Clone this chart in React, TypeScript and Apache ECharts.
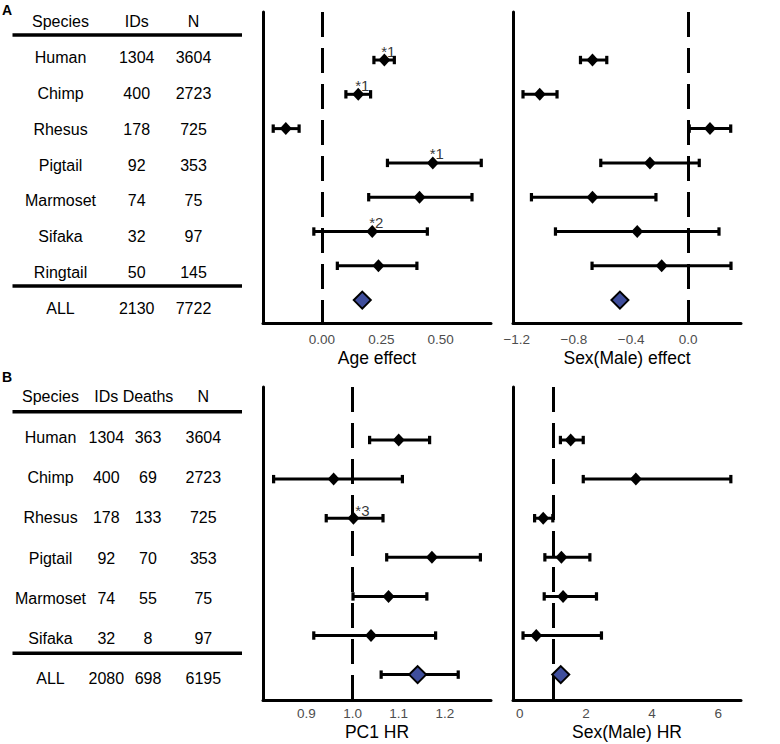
import React, { useEffect, useRef } from "react";
import * as echarts from "echarts";

const FONT = '"Liberation Sans", Arial, Helvetica, sans-serif';
const BLUE = "#3f4e9c";

// ---------- Panel A data ----------
const speciesA = ["Human", "Chimp", "Rhesus", "Pigtail", "Marmoset", "Sifaka", "Ringtail", "ALL"];
const idsA = [1304, 400, 178, 92, 74, 32, 50, 2130];
const nA = [3604, 2723, 725, 353, 75, 97, 145, 7722];
const headerA = ["Species", "IDs", "N"];

const ageEst = [0.263, 0.153, -0.152, 0.467, 0.411, 0.212, 0.238, 0.17];
const ageLo = [0.219, 0.101, -0.205, 0.276, 0.197, -0.034, 0.065, null];
const ageHi = [0.305, 0.205, -0.096, 0.671, 0.632, 0.444, 0.4, null];
const ageNotes = ["*1", "*1", "", "*1", "", "*2", "", ""];
const ageTicks = [0, 0.25, 0.5];

const sexEst = [-0.67, -1.039, 0.152, -0.268, -0.67, -0.357, -0.186, -0.478];
const sexLo = [-0.754, -1.156, 0.007, -0.612, -1.097, -0.929, -0.673, null];
const sexHi = [-0.57, -0.918, 0.297, 0.077, -0.226, 0.215, 0.299, null];
const sexTicks = [-1.2, -0.8, -0.4, 0];

// ---------- Panel B data ----------
const speciesB = ["Human", "Chimp", "Rhesus", "Pigtail", "Marmoset", "Sifaka", "ALL"];
const idsB = [1304, 400, 178, 92, 74, 32, 2080];
const deathsB = [363, 69, 133, 70, 55, 8, 698];
const nB = [3604, 2723, 725, 353, 75, 97, 6195];
const headerB = ["Species", "IDs", "Deaths", "N"];

const pc1Est = [1.1, 0.959, 1.002, 1.172, 1.078, 1.04, 1.141];
const pc1Lo = [1.037, 0.829, 0.943, 1.074, 1.001, 0.916, 1.062];
const pc1Hi = [1.167, 1.108, 1.066, 1.277, 1.161, 1.18, 1.229];
const pc1Notes = ["", "", "*3", "", "", "", ""];
const pc1Ticks = [0.9, 1.0, 1.1, 1.2];

const hrEst = [1.54, 3.51, 0.71, 1.26, 1.31, 0.5, 1.24];
const hrLo = [1.23, 1.92, 0.45, 0.76, 0.74, 0.1, null];
const hrHi = [1.92, 6.38, 1.0, 2.12, 2.32, 2.47, null];
const hrTicks = [0, 2, 4, 6];

type Panel = {
  grid: number;
  est: number[];
  lo: (number | null)[];
  hi: (number | null)[];
  notes?: string[];
  ref: number;
  noteOffset: [number, number];
};

function buildSeries(p: Panel) {
  const last = p.est.length - 1;
  const barData: number[][] = [];
  p.est.forEach((_, i) => {
    if (p.lo[i] != null && p.hi[i] != null) barData.push([p.lo[i] as number, p.hi[i] as number, i]);
  });
  const series: any[] = [
    {
      type: "custom",
      xAxisIndex: p.grid,
      yAxisIndex: p.grid,
      z: 2,
      silent: true,
      data: barData,
      encode: { x: [0, 1], y: 2 },
      renderItem: (params: any, api: any) => {
        const a = api.coord([api.value(0), api.value(2)]);
        const b = api.coord([api.value(1), api.value(2)]);
        return {
          type: "group",
          children: [
            { type: "line", shape: { x1: a[0], y1: a[1], x2: b[0], y2: b[1] }, style: { stroke: "#000", lineWidth: 3 } },
            { type: "rect", shape: { x: a[0] - 1.6, y: a[1] - 4.2, width: 3.2, height: 8.4 }, style: { fill: "#000" } },
            { type: "rect", shape: { x: b[0] - 1.6, y: b[1] - 4.2, width: 3.2, height: 8.4 }, style: { fill: "#000" } },
          ],
        };
      },
      markLine: {
        silent: true,
        symbol: ["none", "none"],
        label: { show: false },
        lineStyle: { color: "#000", width: 3, type: [25, 11], opacity: 1 },
        data: [{ xAxis: p.ref }],
      },
    },
    {
      type: "scatter",
      xAxisIndex: p.grid,
      yAxisIndex: p.grid,
      z: 4,
      silent: true,
      symbol: "diamond",
      symbolSize: [12, 13],
      itemStyle: { color: "#000", opacity: 1 },
      data: p.est.slice(0, last).map((v, i) => [v, i]),
    },
    {
      type: "scatter",
      xAxisIndex: p.grid,
      yAxisIndex: p.grid,
      z: 5,
      silent: true,
      symbol: "diamond",
      symbolSize: 17,
      itemStyle: { color: BLUE, borderColor: "#000", borderWidth: 2, opacity: 1 },
      data: [[p.est[last], last]],
    },
  ];
  if (p.notes) {
    const noteData: any[] = [];
    p.notes.forEach((t, i) => {
      if (t) noteData.push([p.est[i], i, t]);
    });
    series.push({
      type: "scatter",
      xAxisIndex: p.grid,
      yAxisIndex: p.grid,
      z: 6,
      silent: true,
      symbolSize: 0,
      encode: { x: 0, y: 1 },
      data: noteData,
      label: {
        show: true,
        position: "inside",
        offset: p.noteOffset,
        formatter: (q: any) => q.value[2],
        color: "#000",
        fontSize: 15,
        fontFamily: FONT,
      },
    });
  }
  return series;
}

function xAxisDef(grid: number, min: number, max: number, ticks: number[], digits: number, name: string, margin: number, nameGap: number) {
  return {
    type: "value",
    gridIndex: grid,
    min,
    max,
    axisLine: { show: true, onZero: false, lineStyle: { color: "#000", width: 3 } },
    axisTick: { show: false },
    splitLine: { show: false },
    axisLabel: {
      customValues: ticks,
      formatter: (v: number) => (v < 0 ? "\u2212" + Math.abs(v).toFixed(digits) : v.toFixed(digits)),
      color: "#4d4d4d",
      fontSize: 13.5,
      fontFamily: FONT,
      margin,
    },
    name,
    nameLocation: "middle",
    nameGap,
    nameTextStyle: { color: "#000", fontSize: 17.5, fontFamily: FONT },
  };
}

function yAxisDef(grid: number, min: number, max: number) {
  return {
    type: "value",
    gridIndex: grid,
    inverse: true,
    min,
    max,
    axisLine: { show: true, onZero: false, lineStyle: { color: "#000", width: 3 } },
    axisTick: { show: false },
    axisLabel: { show: false },
    splitLine: { show: false },
  };
}

function tableGraphics(
  headers: string[],
  columns: (string | number)[][],
  colX: number[],
  headerY: number,
  rowY0: number,
  rowStep: number,
  allY: number,
  lineY: number[],
) {
  const els: any[] = [];
  const txt = (s: string | number, x: number, y: number) => ({
    type: "text",
    x,
    y,
    style: { text: String(s), fill: "#000", font: `16px ${FONT}`, textAlign: "center", textVerticalAlign: "middle" },
  });
  headers.forEach((h, c) => els.push(txt(h, colX[c], headerY)));
  const nRows = columns[0].length;
  for (let r = 0; r < nRows; r++) {
    const y = r === nRows - 1 ? allY : rowY0 + rowStep * r;
    columns.forEach((col, c) => els.push(txt(col[r], colX[c], y)));
  }
  lineY.forEach((y) =>
    els.push({ type: "line", shape: { x1: 12.5, y1: y, x2: 242, y2: y }, style: { stroke: "#000", lineWidth: 3.5 } }),
  );
  return els;
}

function buildOption() {
  const grids = [
    { left: 263, top: 12, width: 228, height: 311 },
    { left: 513, top: 12, width: 228, height: 311 },
    { left: 263, top: 387, width: 228, height: 313 },
    { left: 513, top: 387, width: 228, height: 313 },
  ];
  const yA: [number, number] = [-1.4, 7.667];
  const yB: [number, number] = [-1.356, 6.649];
  return {
    animation: false,
    backgroundColor: "#fff",
    grid: grids,
    xAxis: [
      xAxisDef(0, -0.248, 0.712, ageTicks, 2, "Age effect", 9, 26),
      xAxisDef(1, -1.226, 0.369, sexTicks, 1, "Sex(Male) effect", 9, 26),
      xAxisDef(2, 0.806, 1.3, pc1Ticks, 1, "PC1 HR", 6, 23),
      xAxisDef(3, -0.203, 6.687, hrTicks, 0, "Sex(Male) HR", 6, 23),
    ],
    yAxis: [yAxisDef(0, yA[0], yA[1]), yAxisDef(1, yA[0], yA[1]), yAxisDef(2, yB[0], yB[1]), yAxisDef(3, yB[0], yB[1])],
    series: [
      ...buildSeries({ grid: 0, est: ageEst, lo: ageLo, hi: ageHi, notes: ageNotes, ref: 0, noteOffset: [4, -9] }),
      ...buildSeries({ grid: 1, est: sexEst, lo: sexLo, hi: sexHi, ref: 0, noteOffset: [4, -9] }),
      ...buildSeries({ grid: 2, est: pc1Est, lo: pc1Lo, hi: pc1Hi, notes: pc1Notes, ref: 1, noteOffset: [9, -8] }),
      ...buildSeries({ grid: 3, est: hrEst, lo: hrLo, hi: hrHi, ref: 1, noteOffset: [4, -9] }),
    ],
    graphic: [
      { type: "text", x: 7, y: 10, style: { text: "A", font: `bold 14px ${FONT}`, fill: "#000", textAlign: "center", textVerticalAlign: "middle" } },
      { type: "text", x: 7, y: 377, style: { text: "B", font: `bold 14px ${FONT}`, fill: "#000", textAlign: "center", textVerticalAlign: "middle" } },
      ...tableGraphics(headerA, [speciesA, idsA, nA], [60.5, 136.7, 193.5], 21.7, 57.7, 35.8, 308.3, [35, 286]),
      ...tableGraphics(headerB, [speciesB, idsB, deathsB, nB], [50.5, 106.3, 148, 203.3], 396.7, 437.7, 40.1, 678.3, [411.7, 653.3]),
    ],
  };
}

export default function App() {
  const ref = useRef<HTMLDivElement>(null);
  useEffect(() => {
    document.body.style.margin = "0";
    const chart = echarts.init(ref.current as HTMLDivElement, null, { renderer: "svg" });
    chart.setOption(buildOption() as any);
    return () => chart.dispose();
  }, []);
  return <div ref={ref} style={{ width: 780, height: 744 }} />;
}
